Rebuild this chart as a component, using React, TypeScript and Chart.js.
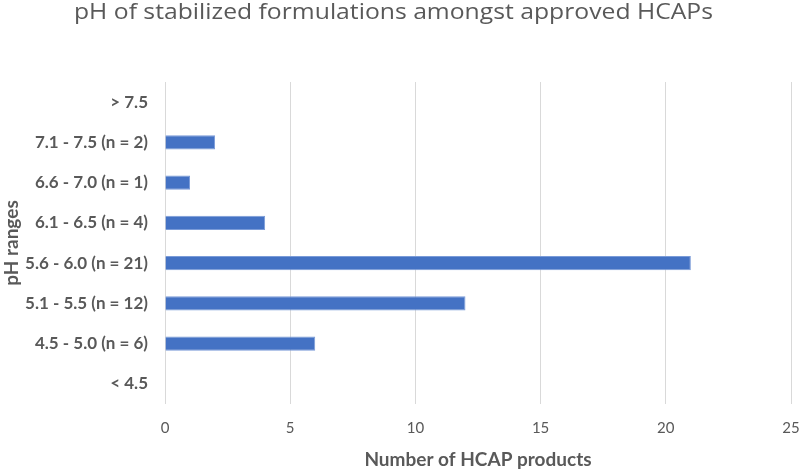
import React, { useEffect, useRef } from "react";
import { Chart, registerables } from "chart.js";

Chart.register(...registerables);

const categories = [
  "> 7.5",
  "7.1 - 7.5 (n = 2)",
  "6.6 - 7.0 (n = 1)",
  "6.1 - 6.5 (n = 4)",
  "5.6 - 6.0 (n = 21)",
  "5.1 - 5.5 (n = 12)",
  "4.5 - 5.0 (n = 6)",
  "< 4.5",
];
const productCounts = [0, 2, 1, 4, 21, 12, 6, 0];
const xTicks = [0, 5, 10, 15, 20, 25];

const chartTitle = "pH of stabilized formulations amongst approved HCAPs";
const xTitle = "Number of HCAP products";
const yTitle = "pH ranges";

const FONT = "Lato, 'Open Sans', sans-serif";
const TITLE_FONT = "'Open Sans', Lato, sans-serif";
const GRAY = "#595959";

const titlePlugin = {
  id: "stretchedTitle",
  afterDraw(chart: any) {
    const ctx = chart.ctx;
    ctx.save();
    ctx.font = `22px ${TITLE_FONT}`;
    ctx.fillStyle = GRAY;
    ctx.textAlign = "center";
    ctx.textBaseline = "alphabetic";
    const w = ctx.measureText(chartTitle).width;
    const targetW = 639;
    const sx = targetW / w;
    ctx.translate(393.5, 19);
    ctx.scale(sx, 1);
    ctx.fillText(chartTitle, 0, 0);
    ctx.restore();
  },
};

export default function App() {
  const ref = useRef<HTMLCanvasElement | null>(null);
  useEffect(() => {
    document.body.style.margin = "0";
    const chart = new Chart(ref.current!, {
      type: "bar",
      data: {
        labels: categories,
        datasets: [
          {
            data: productCounts,
            backgroundColor: "#4472C4",
            borderColor: "#7a9bd8",
            borderWidth: 1,
            barPercentage: 0.36,
            categoryPercentage: 1,
          },
        ],
      },
      options: {
        indexAxis: "y",
        animation: false,
        responsive: false,
        layout: { padding: { top: 82, right: 9, bottom: 0, left: 0 } },
        plugins: {
          legend: { display: false },
          tooltip: { enabled: false },
        },
        scales: {
          x: {
            min: 0,
            max: 25,
            afterBuildTicks: (scale: any) => {
              scale.ticks = xTicks.map((v) => ({ value: v }));
            },
            afterFit: (scale: any) => {
              scale.height = 65;
              scale.paddingLeft = 0;
              scale.paddingRight = 0;
            },
            grid: { color: "#d9d9d9", drawTicks: false, lineWidth: 1 },
            border: { display: false },
            ticks: {
              color: GRAY,
              font: { family: FONT, size: 15 },
              padding: 15,
            },
            title: {
              display: true,
              text: xTitle,
              color: GRAY,
              font: { family: FONT, size: 19, weight: "bold" },
              padding: { top: 0, bottom: -2 },
            },
          },
          y: {
            grid: { display: false },
            border: { display: false },
            afterFit: (scale: any) => {
              scale.width = 165;
            },
            ticks: {
              color: GRAY,
              font: { family: FONT, size: 17, weight: "bold" },
              padding: 9,
            },
            title: {
              display: true,
              text: yTitle,
              color: GRAY,
              font: { family: FONT, size: 19, weight: "bold" },
              padding: { top: 0, bottom: 0 },
            },
          },
        },
      },
      plugins: [titlePlugin],
    } as any);
    return () => chart.destroy();
  }, []);
  return <canvas ref={ref} width={800} height={469} style={{ display: "block" }} />;
}
